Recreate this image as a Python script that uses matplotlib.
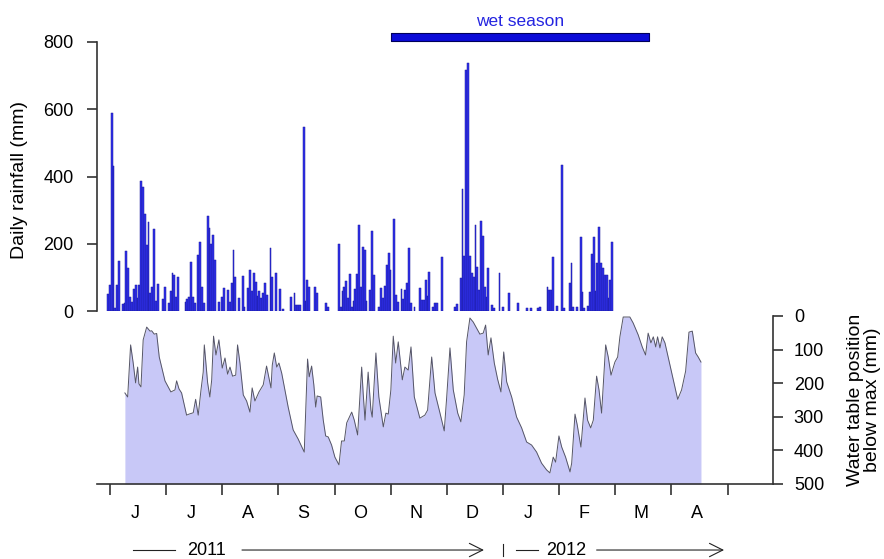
import matplotlib
matplotlib.use('Agg')
import matplotlib.pyplot as plt
import numpy as np

plt.rcParams['font.family'] = ['Liberation Sans', 'DejaVu Sans']

# daily rainfall (mm), day number counted from the first day of the record
rain_day = [0, 1, 2, 3, 4, 5, 6, 8, 9, 10, 11, 12, 13, 14, 15, 16, 17, 18, 19, 20,
            21, 22, 23, 24, 25, 26, 27, 30, 31, 33, 34, 35, 36, 37, 38, 42, 43, 44, 45, 46,
            47, 49, 50, 51, 52, 54, 55, 56, 57, 58, 60, 62, 63, 65, 66, 67, 68, 69, 71, 73,
            74, 76, 77, 78, 79, 80, 81, 82, 83, 84, 85, 86, 88, 89, 91, 93, 95, 99, 101, 102,
            103, 104, 106, 107, 108, 109, 112, 113, 118, 119, 125, 126, 127, 128, 129, 130, 131, 132, 133, 134,
            135, 136, 137, 138, 139, 140, 142, 143, 144, 147, 148, 149, 150, 151, 152, 153, 155, 156, 157, 159,
            160, 161, 162, 163, 164, 166, 169, 170, 171, 172, 173, 174, 176, 177, 178, 181, 188, 189, 191, 192,
            193, 194, 195, 196, 197, 198, 199, 200, 201, 202, 203, 204, 205, 206, 208, 209, 212, 214, 217, 222,
            227, 229, 233, 234, 238, 239, 240, 241, 243, 246, 247, 250, 251, 252, 254, 256, 257, 258, 260, 261,
            262, 263, 264, 265, 266, 267, 268, 269, 270, 271, 272, 273]
rain_mm = [50, 77, 589, 432, 10, 77, 149, 20, 25, 178, 128, 42, 27, 65, 77, 40, 77, 387, 369, 289,
           196, 265, 54, 71, 244, 30, 80, 36, 71, 24, 60, 113, 107, 42, 101, 27, 36, 42, 146, 42,
           24, 167, 205, 71, 24, 283, 247, 199, 226, 152, 27, 42, 68, 62, 27, 83, 180, 101, 39, 104,
           12, 68, 122, 60, 113, 86, 45, 60, 40, 54, 83, 48, 187, 101, 113, 65, 6, 42, 54, 18,
           18, 18, 548, 30, 92, 71, 71, 54, 24, 12, 200, 12, 60, 71, 89, 39, 110, 12, 30, 65,
           110, 256, 71, 190, 181, 30, 62, 238, 107, 12, 68, 39, 74, 137, 173, 122, 274, 48, 27, 65,
           36, 62, 83, 187, 24, 12, 68, 33, 33, 92, 45, 116, 12, 24, 24, 160, 12, 20, 98, 363,
           164, 717, 738, 164, 113, 100, 256, 131, 62, 268, 223, 71, 42, 128, 18, 9, 113, 12, 54, 24,
           8, 10, 9, 12, 71, 62, 62, 161, 15, 435, 9, 83, 143, 12, 12, 220, 57, 9, 15, 57,
           170, 220, 60, 143, 250, 143, 128, 107, 107, 39, 92, 205]
rain_start = -1.6  # first record day, in days from 1 June 2011

# water table depth below its maximum (mm), days from 1 June 2011
wt_day = [8.1, 9.6, 11.2, 12.6, 13.9, 15.0, 15.7, 16.8, 18.0, 19.9, 21.7, 22.6, 24.0, 25.3, 26.7,
          29.8, 33.0, 35.2, 36.1, 37.4, 38.8, 41.5, 42.8, 45.1, 46.4, 47.8, 49.3, 50.5, 51.1, 52.9,
          54.1, 55.1, 56.1, 57.4, 59.0, 60.8, 62.3, 63.7, 65.0, 66.4, 68.1, 69.1, 70.4, 72.2, 74.0,
          75.8, 77.0, 78.5, 80.7, 83.0, 84.8, 86.1, 87.2, 87.9, 89.0, 90.3, 91.5, 93.0, 96.5, 99.2,
          101.9, 105.2, 107.0, 107.9, 109.2, 110.4, 111.4, 112.2, 114.1, 115.5, 116.8, 118.2, 120.0, 121.8, 124.0,
          125.4, 126.9, 128.2, 130.9, 132.3, 134.1, 136.3, 137.1, 138.1, 139.8, 141.3, 142.0, 144.0, 145.6, 148.0,
          149.4, 150.7, 152.1, 153.4, 154.7, 156.1, 158.3, 159.7, 161.5, 163.0, 164.8, 167.8, 170.5, 172.0, 174.2,
          176.0, 178.7, 181.0, 182.3, 184.1, 185.9, 188.3, 190.0, 191.8, 193.1, 194.9, 196.7, 198.5, 200.3, 202.1,
          203.4, 204.8, 206.3, 208.1, 209.9, 211.7, 213.2, 214.8, 217.5, 220.2, 222.9, 225.6, 228.3, 231.0, 233.7,
          236.4, 238.2, 240.0, 241.3, 243.1, 244.6, 246.7, 249.1, 250.0, 251.8, 253.0, 255.0, 257.2, 258.6, 260.3,
          261.7, 263.5, 264.8, 266.2, 268.4, 269.8, 271.3, 273.4, 274.9, 276.1, 277.9, 280.3, 281.5, 283.3, 286.0,
          288.2, 290.0, 291.4, 292.9, 294.2, 295.5, 296.5, 297.8, 299.0, 300.5, 304.1, 307.4, 309.5, 311.7, 313.5,
          315.3, 317.1, 318.5, 320.0]
wt_depth = [229, 241, 86, 140, 199, 152, 202, 211, 71, 33, 45, 44, 54, 52, 122,
            193, 226, 220, 193, 217, 229, 295, 292, 288, 248, 295, 220, 167, 86, 199,
            241, 190, 60, 116, 71, 155, 125, 173, 152, 179, 176, 86, 140, 235, 253,
            286, 214, 253, 226, 205, 149, 185, 214, 146, 110, 152, 140, 170, 271, 339,
            366, 405, 128, 181, 149, 205, 271, 238, 241, 310, 357, 360, 384, 420, 443,
            372, 372, 318, 286, 310, 354, 152, 229, 310, 167, 280, 301, 110, 241, 330,
            289, 292, 220, 60, 140, 77, 190, 152, 161, 92, 241, 304, 295, 280, 122,
            229, 289, 342, 244, 95, 220, 289, 315, 235, 77, 6, 18, 36, 54, 51,
            27, 116, 65, 140, 188, 226, 107, 196, 241, 301, 333, 375, 384, 405, 438,
            458, 467, 420, 435, 357, 390, 420, 464, 438, 292, 324, 390, 244, 310, 333,
            310, 179, 220, 289, 86, 122, 176, 137, 122, 62, 3, 3, 3, 21, 56,
            92, 116, 51, 80, 62, 92, 62, 95, 62, 80, 167, 248, 220, 164, 48,
            45, 110, 122, 137]

months = ['J', 'J', 'A', 'S', 'O', 'N', 'D', 'J', 'F', 'M', 'A']
month_len = 30.4
wet_season = (152, 292)  # 1 Nov 2011 to ~20 Mar 2012

W, H = 884, 559
fig = plt.figure(figsize=(W / 100, H / 100), dpi=100)
left, width = 97 / W, (773 - 97) / W
ax_r = fig.add_axes([left, 1 - 311 / H, width, (311 - 42) / H])
ax_w = fig.add_axes([left, 1 - 484 / H, width, (484 - 316) / H])
xlim = (-7, 359)
spine_col = '#333333'

# rainfall bars
ax_r.bar(np.array(rain_day) + rain_start, rain_mm, width=1.0, color='#3030ee',
         edgecolor='#1a1a9a', linewidth=0.35, align='edge')
ax_r.set_xlim(*xlim)
ax_r.set_ylim(0, 800)
for s in ['top', 'right', 'bottom']:
    ax_r.spines[s].set_visible(False)
ax_r.spines['left'].set_color(spine_col)
ax_r.spines['left'].set_linewidth(1.2)
ax_r.set_xticks([])
ax_r.set_yticks([0, 200, 400, 600, 800])
ax_r.tick_params(axis='y', direction='out', length=7, width=1.2, color=spine_col,
                 labelsize=13, pad=10)
ax_r.patch.set_visible(False)

# wet season bar
ax_r.broken_barh([(wet_season[0], wet_season[1] - wet_season[0])], (803, 25),
                 facecolors='#0b0bd8', edgecolors='#00005a', linewidth=0.8, clip_on=False)
ax_r.text((wet_season[0] + wet_season[1]) / 2, 860, 'wet season', ha='center', va='center',
          color='#2424e0', fontsize=12.5, clip_on=False)

# water table
ax_w.fill_between(wt_day, wt_depth, 500, color='#c8c8f7', linewidth=0)
ax_w.plot(wt_day, wt_depth, color='#555566', linewidth=0.7)
ax_w.set_xlim(*xlim)
ax_w.set_ylim(500, 0)
for s in ['top', 'left']:
    ax_w.spines[s].set_visible(False)
for s in ['right', 'bottom']:
    ax_w.spines[s].set_color(spine_col)
    ax_w.spines[s].set_linewidth(1.2)
ax_w.yaxis.tick_right()
ax_w.set_yticks([0, 100, 200, 300, 400, 500])
ax_w.tick_params(axis='y', direction='out', length=7, width=1.2, color=spine_col,
                 labelsize=13, pad=8)
ticks = np.arange(12) * month_len
ax_w.set_xticks(ticks)
ax_w.set_xticklabels([])
ax_w.set_xticks(ticks[:-1] + month_len / 2 - 1.5, minor=True)
ax_w.set_xticklabels(months, minor=True)
ax_w.tick_params(axis='x', which='major', direction='out', length=8, width=1.2, color=spine_col)
ax_w.tick_params(axis='x', which='minor', length=0, labelsize=13, pad=15)
ax_w.patch.set_visible(False)

# year arrows under the month labels
tr = ax_w.get_xaxis_transform()
yy = -0.393
line_kw = dict(color='#222222', linewidth=0.8, transform=tr, clip_on=False)
arrow_kw = dict(arrowstyle='->', color='#222222', lw=0.8, mutation_scale=24)
ax_w.plot([12.5, 35], [yy, yy], **line_kw)
ax_w.text(52.5, yy, '2011', ha='center', va='center', fontsize=13, transform=tr)
ax_w.annotate('', xy=(204, yy), xytext=(70, yy), xycoords=tr, textcoords=tr, arrowprops=arrow_kw)
ax_w.plot([7 * month_len] * 2, [yy - 0.036, yy + 0.036], **line_kw)
ax_w.plot([220, 232], [yy, yy], **line_kw)
ax_w.text(247, yy, '2012', ha='center', va='center', fontsize=13, transform=tr)
ax_w.annotate('', xy=(334, yy), xytext=(262, yy), xycoords=tr, textcoords=tr, arrowprops=arrow_kw)

fig.text(20 / W, 1 - 180 / H, 'Daily rainfall (mm)', rotation=90, ha='center', va='center',
         fontsize=14)
fig.text(864 / W, 1 - 400 / H, 'Water table position\nbelow max (mm)', rotation=90,
         ha='center', va='center', fontsize=14, linespacing=1.05)

fig.savefig('out.png', dpi=100)
